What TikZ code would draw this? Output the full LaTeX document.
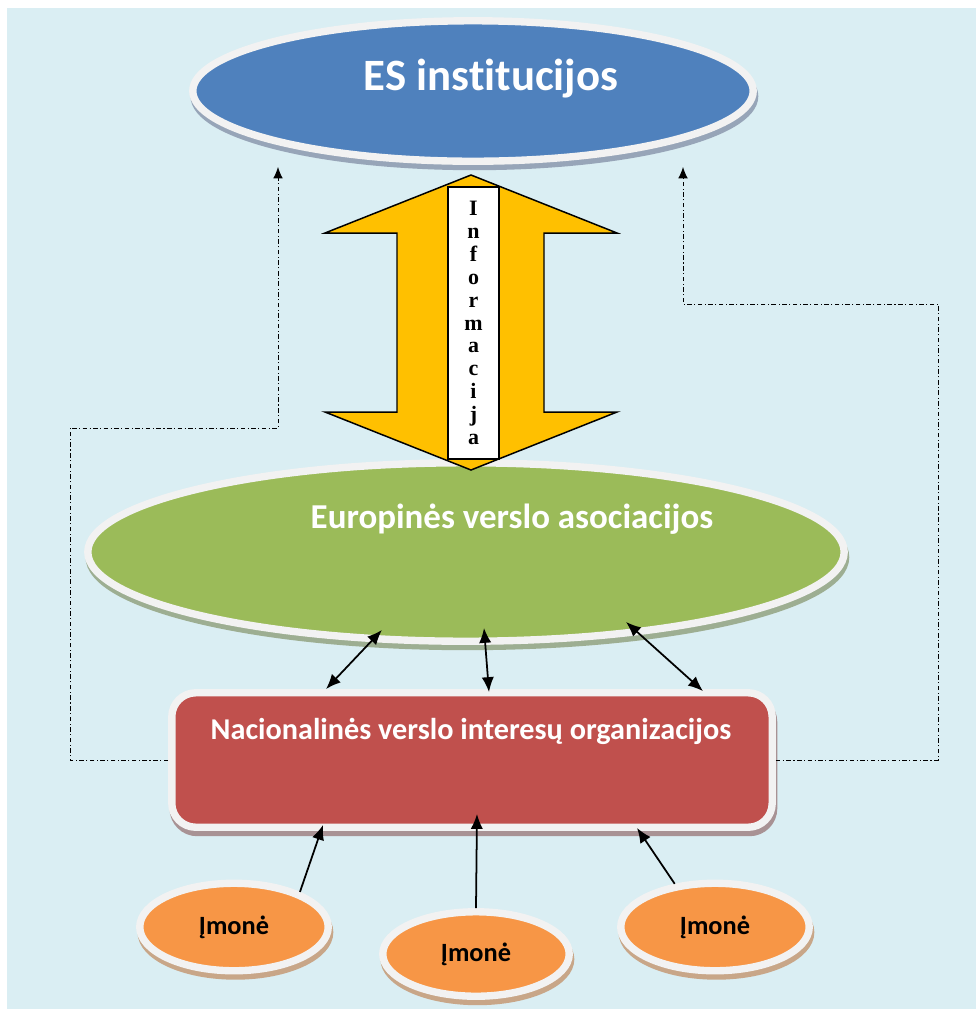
\documentclass[tikz,border=0pt]{standalone}
\usepackage{fontspec}
\newfontfamily\calibri[Ligatures=NoCommon]{Carlito}
\newfontfamily\timesbold{Liberation Serif}
\usepackage{tikz}
\usetikzlibrary{arrows.meta, calc, shapes.geometric}
\definecolor{bgblue}{HTML}{DAEEF3}
\definecolor{esblue}{HTML}{4F81BD}
\definecolor{evgreen}{HTML}{9BBB59}
\definecolor{nvred}{HTML}{C0504D}
\definecolor{imorange}{HTML}{F79646}
\definecolor{infoyellow}{HTML}{FFC000}
\definecolor{rim}{HTML}{F2F2F2}
\definecolor{esedge}{HTML}{97A5B8}
\definecolor{evedge}{HTML}{9DAE92}
\definecolor{nvedge}{HTML}{A89294}
\definecolor{imedge}{HTML}{C8A688}

\begin{document}
\begin{tikzpicture}[x=0.02cm, y=-0.02cm,
  disc/.style={ellipse, draw=rim, line width=4.2pt, inner sep=0pt},
  edge3d/.style={preaction={draw=#1, fill=#1, transform canvas={shift={(0.8pt,-3pt)}}}},
  title/.style={text=white, font=\calibri\bfseries\fontsize{#1}{#1}\selectfont, anchor=base},
  dbl/.style={{Latex[length=8.5pt,width=7pt]}-{Latex[length=8.5pt,width=7pt]}, line width=1pt},
  up/.style={-{Latex[length=8.5pt,width=7pt]}, line width=1pt},
  dashdot/.style={-{Latex[length=6.5pt,width=5.5pt]}, line width=0.5pt, dash pattern=on 2.6pt off 1.4pt on 0.6pt off 1.4pt}]
\useasboundingbox (0,0) rectangle (976,1009);
\fill[bgblue] (7,8) rectangle (976,1009);

\node[disc, fill=esblue, minimum width=11.21cm, minimum height=2.81cm, edge3d=esedge] (es) at (473,91) {};
\node[title=25.5] (estext) at (491,90) {ES institucijos};

\node[disc, fill=evgreen, minimum width=15.13cm, minimum height=3.57cm, edge3d=evedge] (eva) at (466,552) {};
\node[title=19.9] (evtext) at (512,528) {Europinės verslo asociacijos};

\node[draw=rim, line width=4.2pt, rounded corners=0.48cm, fill=nvred, minimum width=12.01cm, minimum height=2.69cm, edge3d=nvedge] (nvo) at (472,760) {};
\node[title=17.2] (nvtext) at (471,739) {Nacionalinės verslo interesų organizacijos};

\node[disc, fill=imorange, minimum width=3.77cm, minimum height=1.75cm, edge3d=imedge, font=\calibri\bfseries\fontsize{15}{15}\selectfont] (im1) at (234,927) {Įmonė};
\node[disc, fill=imorange, minimum width=3.73cm, minimum height=1.69cm, edge3d=imedge, font=\calibri\bfseries\fontsize{15}{15}\selectfont] (im2) at (476,954) {Įmonė};
\node[disc, fill=imorange, minimum width=3.77cm, minimum height=1.75cm, edge3d=imedge, font=\calibri\bfseries\fontsize{15}{15}\selectfont] (im3) at (715,927) {Įmonė};

\draw[fill=infoyellow, line width=0.85pt, line join=miter] (471,175) -- (617,233) -- (544,233) -- (544,412) -- (617,412) -- (471,470) -- (325,412) -- (397,412) -- (397,233) -- (325,233) -- cycle;
\node[draw, fill=white, line width=0.85pt, minimum width=1.02cm, minimum height=5.44cm, inner sep=0pt, align=center, font=\timesbold\bfseries\fontsize{12.5}{13}\selectfont] (info) at (473.5,323) {I\\n\\f\\o\\r\\m\\a\\c\\i\\j\\a};

\coordinate (lbend) at (70,428);
\coordinate (rbend) at (938,304);
\coordinate (eslin) at (278,167);
\coordinate (esrin) at (683,167);
\draw[dashdot] (nvo.west) -| (lbend) -| (eslin);
\draw[dashdot] (nvo.east) -| (rbend) -| (esrin);

\draw[dbl] ($(nvo.north)+(-146,0)$) -- ($(eva.south)+(-84,-15)$);
\draw[dbl] ($(nvo.north)+(17,3)$) -- ($(eva.south)+(18,-17)$);
\draw[dbl] ($(nvo.north)+(231,2)$) -- ($(eva.south)+(160,-23)$);

\draw[up] (im1.28) -- ($(nvo.south)+(-149,-6)$);
\draw[up] (im2.north) -- ($(nvo.south)+(5,-17)$);
\draw[up] (im3.133) -- ($(nvo.south)+(165,-3)$);
\end{tikzpicture}
\end{document}
